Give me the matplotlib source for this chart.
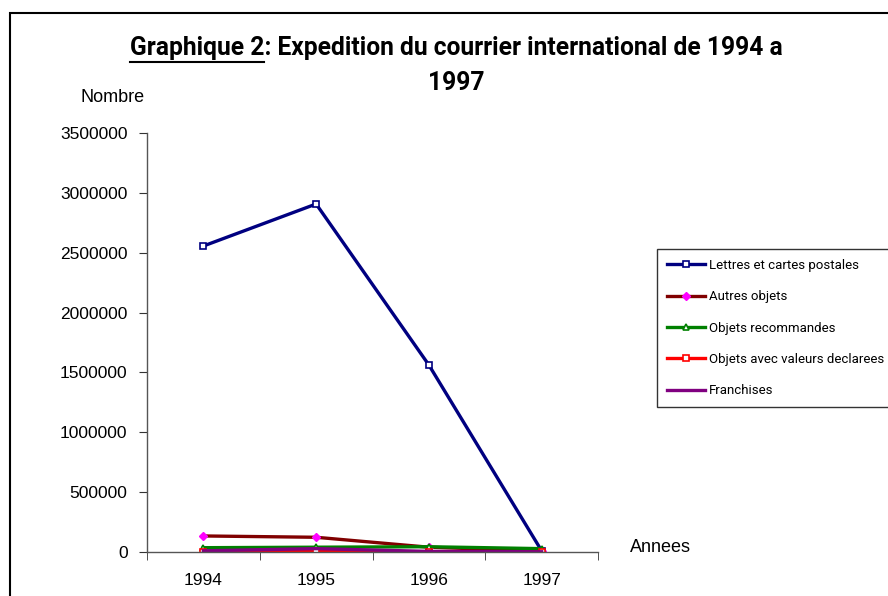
import matplotlib.pyplot as plt
from matplotlib.lines import Line2D
from matplotlib.patches import Rectangle
from matplotlib.ticker import FixedLocator, NullFormatter

# donnees
annees = ['1994', '1995', '1996', '1997']
lettres = [2556000, 2907000, 1562000, 10000]
autres = [134000, 123000, 40000, 8000]
recommandes = [36000, 40000, 44000, 28000]
valeurs = [3000, 3000, 2000, 2000]
franchises = [10000, 28000, 5000, 2000]

noms = ['Lettres et cartes postales', 'Autres objets', 'Objets recommandes',
        'Objets avec valeurs declarees', 'Franchises']

narrow = ['Roboto', 'Liberation Sans', 'DejaVu Sans']
plt.rcParams['font.family'] = ['Liberation Sans', 'DejaVu Sans']

W, H = 888, 596
fig = plt.figure(figsize=(W / 100, H / 100), dpi=100)
ax = fig.add_axes([147 / W, 1 - 552 / H, 451 / W, 419 / H])

x = list(range(len(annees)))
lw = 2.4
ax.plot(x, lettres, color='#000080', lw=lw, marker='s', ms=4, mfc='white', mec='#000080', mew=1.2)
ax.plot(x, autres, color='#800000', lw=lw, marker='D', ms=4, mfc='#ff00ff', mec='#ff00ff')
ax.plot(x, recommandes, color='#008000', lw=lw, marker='^', ms=5, mfc='white', mec='#008000', mew=1.2)
ax.plot(x, valeurs, color='#ff0000', lw=lw, marker='s', ms=4, mfc='white', mec='#ff0000', mew=1.2)
ax.plot(x, franchises, color='#800080', lw=lw)

ax.set_xlim(-0.5, 3.5)
ax.set_ylim(0, 3500000)
ax.set_yticks(range(0, 3500001, 500000))
ax.set_yticklabels([str(v) for v in range(0, 3500001, 500000)], fontsize=12.5)
ax.set_xticks(x)
ax.set_xticklabels(annees, fontsize=12.5)
ax.tick_params(axis='x', which='major', length=0, pad=15)
ax.xaxis.set_minor_locator(FixedLocator([-0.5, 0.5, 1.5, 2.5, 3.5]))
ax.xaxis.set_minor_formatter(NullFormatter())
ax.tick_params(axis='x', which='minor', length=6, color='#333333')
ax.tick_params(axis='y', length=6, color='#333333', pad=8)
for s in ['top', 'right']:
    ax.spines[s].set_visible(False)
for s in ['left', 'bottom']:
    ax.spines[s].set_color('#555555')
    ax.spines[s].set_linewidth(1)

fig.text(80 / W, 1 - 97 / H, 'Nombre', fontsize=13, ha='left', va='center')
fig.text(630 / W, 1 - 547 / H, 'Annees', fontsize=13, ha='left', va='center')

# titre
l1 = 'Graphique 2: Expedition du courrier international de 1994 a'
t1 = fig.text(456 / W, 1 - 48 / H, l1, fontsize=17.7, fontweight='bold', family=narrow,
              ha='center', va='center')
fig.text(456 / W, 1 - 83 / H, '1997', fontsize=17.7, fontweight='bold', family=narrow,
         ha='center', va='center')

leg_handles = [
    Line2D([], [], color='#000080', lw=lw, marker='s', ms=4, mfc='white', mec='#000080', mew=1.2),
    Line2D([], [], color='#800000', lw=lw, marker='D', ms=4, mfc='#ff00ff', mec='#ff00ff'),
    Line2D([], [], color='#008000', lw=lw, marker='^', ms=5, mfc='white', mec='#008000', mew=1.2),
    Line2D([], [], color='#ff0000', lw=lw, marker='s', ms=4, mfc='white', mec='#ff0000', mew=1.2),
    Line2D([], [], color='#800080', lw=lw),
]
leg = fig.legend(leg_handles, noms, loc='upper left', bbox_to_anchor=(657 / W, 1 - 249 / H),
                 prop={'family': narrow, 'size': 9.5}, frameon=True, fancybox=False,
                 edgecolor='black', handlelength=2.9, handletextpad=0.3,
                 labelspacing=1.39, borderpad=0.75, borderaxespad=0)
leg.get_frame().set_linewidth(1)

# cadre exterieur
fig.patches.append(Rectangle((10 / W, -0.1), 1.2, 1 - 13 / H + 0.1, transform=fig.transFigure,
                             fill=False, edgecolor='black', lw=1.5))

# soulignement de "Graphique 2"
fig.canvas.draw()
r = fig.canvas.get_renderer()
bb = t1.get_window_extent(r)
tmp = fig.text(0, 0, 'Graphique 2', fontsize=17.7, fontweight='bold', family=narrow)
wb = tmp.get_window_extent(r)
tmp.remove()
yu = (H - 62) / H
fig.add_artist(Line2D([bb.x0 / W, (bb.x0 + wb.width) / W], [yu, yu],
                      transform=fig.transFigure, color='black', lw=1.5))

fig.savefig('out.png', dpi=100)
